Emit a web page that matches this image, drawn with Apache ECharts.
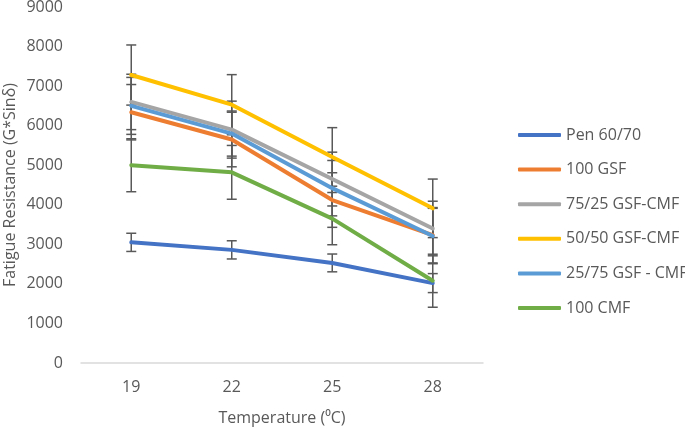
<!DOCTYPE html>
<html><head><meta charset="utf-8">
<script src="https://cdn.jsdelivr.net/npm/echarts@6/dist/echarts.min.js"></script>
<style>html,body{margin:0;padding:0;background:#fff}#c{width:685px;height:427px}</style>
</head><body><div id="c"></div>
<script>
const categories = ['19', '22', '25', '28'];
const seriesNames = ['Pen 60/70', '100 GSF', '75/25 GSF-CMF', '50/50 GSF-CMF', '25/75 GSF - CMF', '100 CMF'];
const pen = [3050, 2860, 2530, 2020];
const gsf100 = [6340, 5650, 4120, 3230];
const mix7525 = [6600, 5900, 4650, 3400];
const mix5050 = [7280, 6530, 5210, 3910];
const mix2575 = [6500, 5800, 4420, 3210];
const cmf100 = [5000, 4820, 3650, 2080];
const penErr = [230, 230, 225, 240];
const gsf100Err = [700, 690, 690, 700];
const mix7525Err = [700, 720, 680, 690];
const mix5050Err = [760, 760, 740, 740];
const mix2575Err = [720, 570, 700, 700];
const cmf100Err = [670, 680, 660, 670];
const yTicks = [0, 1000, 2000, 3000, 4000, 5000, 6000, 7000, 8000, 9000];

const values = [pen, gsf100, mix7525, mix5050, mix2575, cmf100];
const errs = [penErr, gsf100Err, mix7525Err, mix5050Err, mix2575Err, cmf100Err];
const colors = ['#4472C4', '#ED7D31', '#A5A5A5', '#FFC000', '#5B9BD5', '#70AD47'];
const font = 'Open Sans';

const series = [];
values.forEach((v, k) => {
  series.push({
    type: 'custom', z: 1, silent: true,
    data: v.map((y, i) => [i, y, errs[k][i]]),
    encode: {x: 0, y: 1},
    renderItem: function (params, api) {
      const i = api.value(0), y = api.value(1), e = api.value(2);
      const top = api.coord([i, y + e]);
      const bot = api.coord([i, y - e]);
      const hw = 5;
      const st = {stroke: '#595959', lineWidth: 1.5};
      return {type: 'group', children: [
        {type: 'line', shape: {x1: top[0], y1: top[1], x2: bot[0], y2: bot[1]}, style: st},
        {type: 'line', shape: {x1: top[0] - hw, y1: top[1], x2: top[0] + hw, y2: top[1]}, style: st},
        {type: 'line', shape: {x1: bot[0] - hw, y1: bot[1], x2: bot[0] + hw, y2: bot[1]}, style: st}
      ]};
    }
  });
});
values.forEach((v, k) => {
  series.push({
    name: seriesNames[k], type: 'line', z: 3 + k, data: v,
    symbol: 'none', color: colors[k],
    lineStyle: {width: 4, color: colors[k], cap: 'round', join: 'round'}
  });
});

const chart = echarts.init(document.getElementById('c'));
chart.setOption({
  animation: false,
  backgroundColor: '#fff',
  grid: {left: 81, right: 202, top: 7, bottom: 64, containLabel: false, outerBoundsMode: 'none'},
  legend: {
    orient: 'vertical', left: 513, top: 120,
    data: seriesNames,
    icon: 'roundRect', itemWidth: 43, itemHeight: 4, itemGap: 14.6,
    textStyle: {fontFamily: font, fontSize: 16, color: '#595959', lineHeight: 20}
  },
  xAxis: {
    type: 'category', data: categories, boundaryGap: true,
    name: 'Temperature (\u2070C)', nameLocation: 'middle', nameGap: 47, nameMoveOverlap: false,
    nameTextStyle: {fontFamily: font, fontSize: 16, color: '#595959'},
    axisLine: {lineStyle: {color: '#D9D9D9', width: 1.5}},
    axisTick: {show: false},
    axisLabel: {fontFamily: font, fontSize: 16, color: '#595959', margin: 16},
    splitLine: {show: false}
  },
  yAxis: {
    type: 'value', min: yTicks[0], max: yTicks[yTicks.length - 1], interval: 1000,
    name: 'Fatigue Resistance (G*Sin\u03B4)', nameLocation: 'middle', nameGap: 63, nameMoveOverlap: false,
    nameTextStyle: {fontFamily: font, fontSize: 16, color: '#595959'},
    axisLine: {show: false}, axisTick: {show: false},
    axisLabel: {fontFamily: font, fontSize: 16, color: '#595959', margin: 18, formatter: v => String(v)},
    splitLine: {show: false}
  },
  series: series
});
</script></body></html>
